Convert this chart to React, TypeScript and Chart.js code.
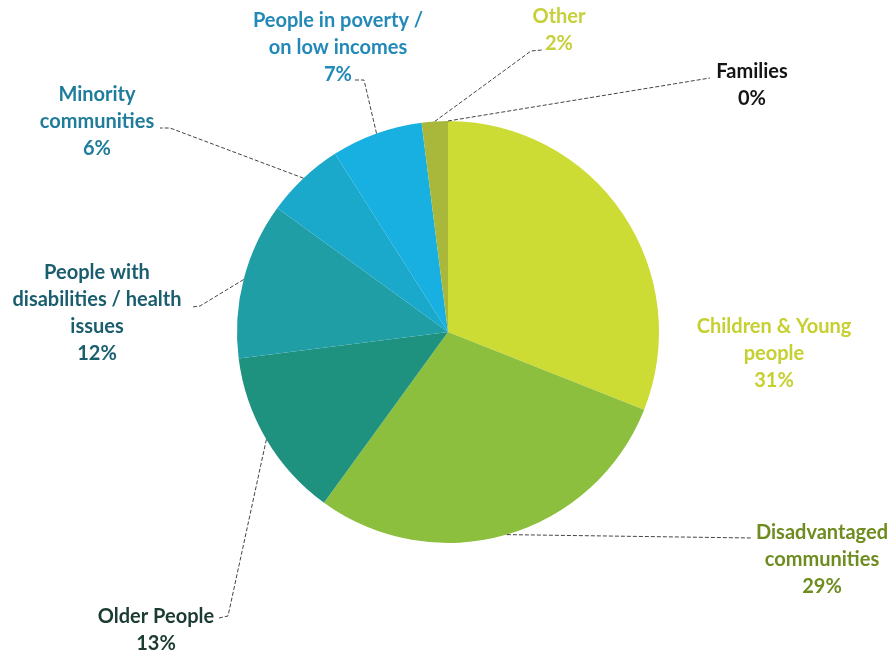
import React, { useEffect, useRef } from "react";
import { Chart, registerables } from "chart.js";

Chart.register(...registerables);

const categories = [
  "Families",
  "Children & Young people",
  "Disadvantaged communities",
  "Older People",
  "People with disabilities / health issues",
  "Minority communities",
  "People in poverty / on low incomes",
  "Other",
];
const values = [0, 31, 29, 13, 12, 6, 7, 2];
const sliceColors = ["#9aa83a", "#cddc34", "#8dbf3e", "#1f917f", "#1f9ea6", "#1aa8cb", "#18b0e0", "#a9b83a"];
const labelLines = [
  ["Families"],
  ["Children & Young", "people"],
  ["Disadvantaged", "communities"],
  ["Older People"],
  ["People with", "disabilities / health", "issues"],
  ["Minority", "communities"],
  ["People in poverty /", "on low incomes"],
  ["Other"],
];
const labelColors = ["#151515", "#c6d030", "#6e8c20", "#1c3b33", "#1a5e6e", "#1f7c9a", "#2389b8", "#c6d03a"];

// layout: text centre x, first line centre y, leader path points (from arc outward)
const labelLayout = [
  { x: 752, y: 72, path: [[710, 78]] },
  { x: 774, y: 327, path: [] },
  { x: 822, y: 533, path: [[752, 538]] },
  { x: 156, y: 617, path: [[228, 616], [219, 618]] },
  { x: 97, y: 273, path: [[200, 306], [192, 307]] },
  { x: 97, y: 95, path: [[170, 128], [160, 128]] },
  { x: 338, y: 21, path: [[364, 80], [355, 80]] },
  { x: 559, y: 17, path: [[531, 51], [542, 50]] },
];

const labelPlugin = {
  id: "pieLabels",
  afterDraw(chart: any) {
    const ctx = chart.ctx;
    const meta = chart.getDatasetMeta(0);
    const lh = 27;
    ctx.save();
    meta.data.forEach((arc: any, i: number) => {
      const lay = labelLayout[i];
      const mid = (arc.startAngle + arc.endAngle) / 2;
      const r = arc.outerRadius;
      const sx = arc.x + Math.cos(mid) * r;
      const sy = arc.y + Math.sin(mid) * r;
      if (lay.path.length) {
        ctx.beginPath();
        ctx.strokeStyle = "#444";
        ctx.lineWidth = 1;
        ctx.setLineDash([4, 2]);
        ctx.moveTo(sx, sy);
        lay.path.forEach((p) => ctx.lineTo(p[0], p[1]));
        ctx.stroke();
        ctx.setLineDash([]);
      }
      const lines = [...labelLines[i], values[i] + "%"];
      ctx.fillStyle = labelColors[i];
      ctx.font = "bold 20px Lato";
      ctx.textAlign = "center";
      ctx.textBaseline = "middle";
      lines.forEach((t, k) => ctx.fillText(t, lay.x, lay.y + k * lh));
    });
    ctx.restore();
  },
};

export default function App() {
  const ref = useRef<HTMLCanvasElement>(null);
  useEffect(() => {
    document.body.style.margin = "0";
    const chart = new Chart(ref.current!, {
      type: "pie",
      data: {
        labels: categories,
        datasets: [
          {
            data: values,
            backgroundColor: sliceColors,
            borderWidth: 0,
          },
        ],
      },
      options: {
        animation: false,
        responsive: false,
        maintainAspectRatio: false,
        layout: { padding: { left: 237, right: 234, top: 121, bottom: 111 } },
        plugins: { legend: { display: false }, tooltip: { enabled: false } },
      },
      plugins: [labelPlugin],
    });
    return () => chart.destroy();
  }, []);
  return (
    <div style={{ width: 893, height: 654, background: "#fff" }}>
      <canvas ref={ref} width={893} height={654} style={{ display: "block" }} />
    </div>
  );
}
